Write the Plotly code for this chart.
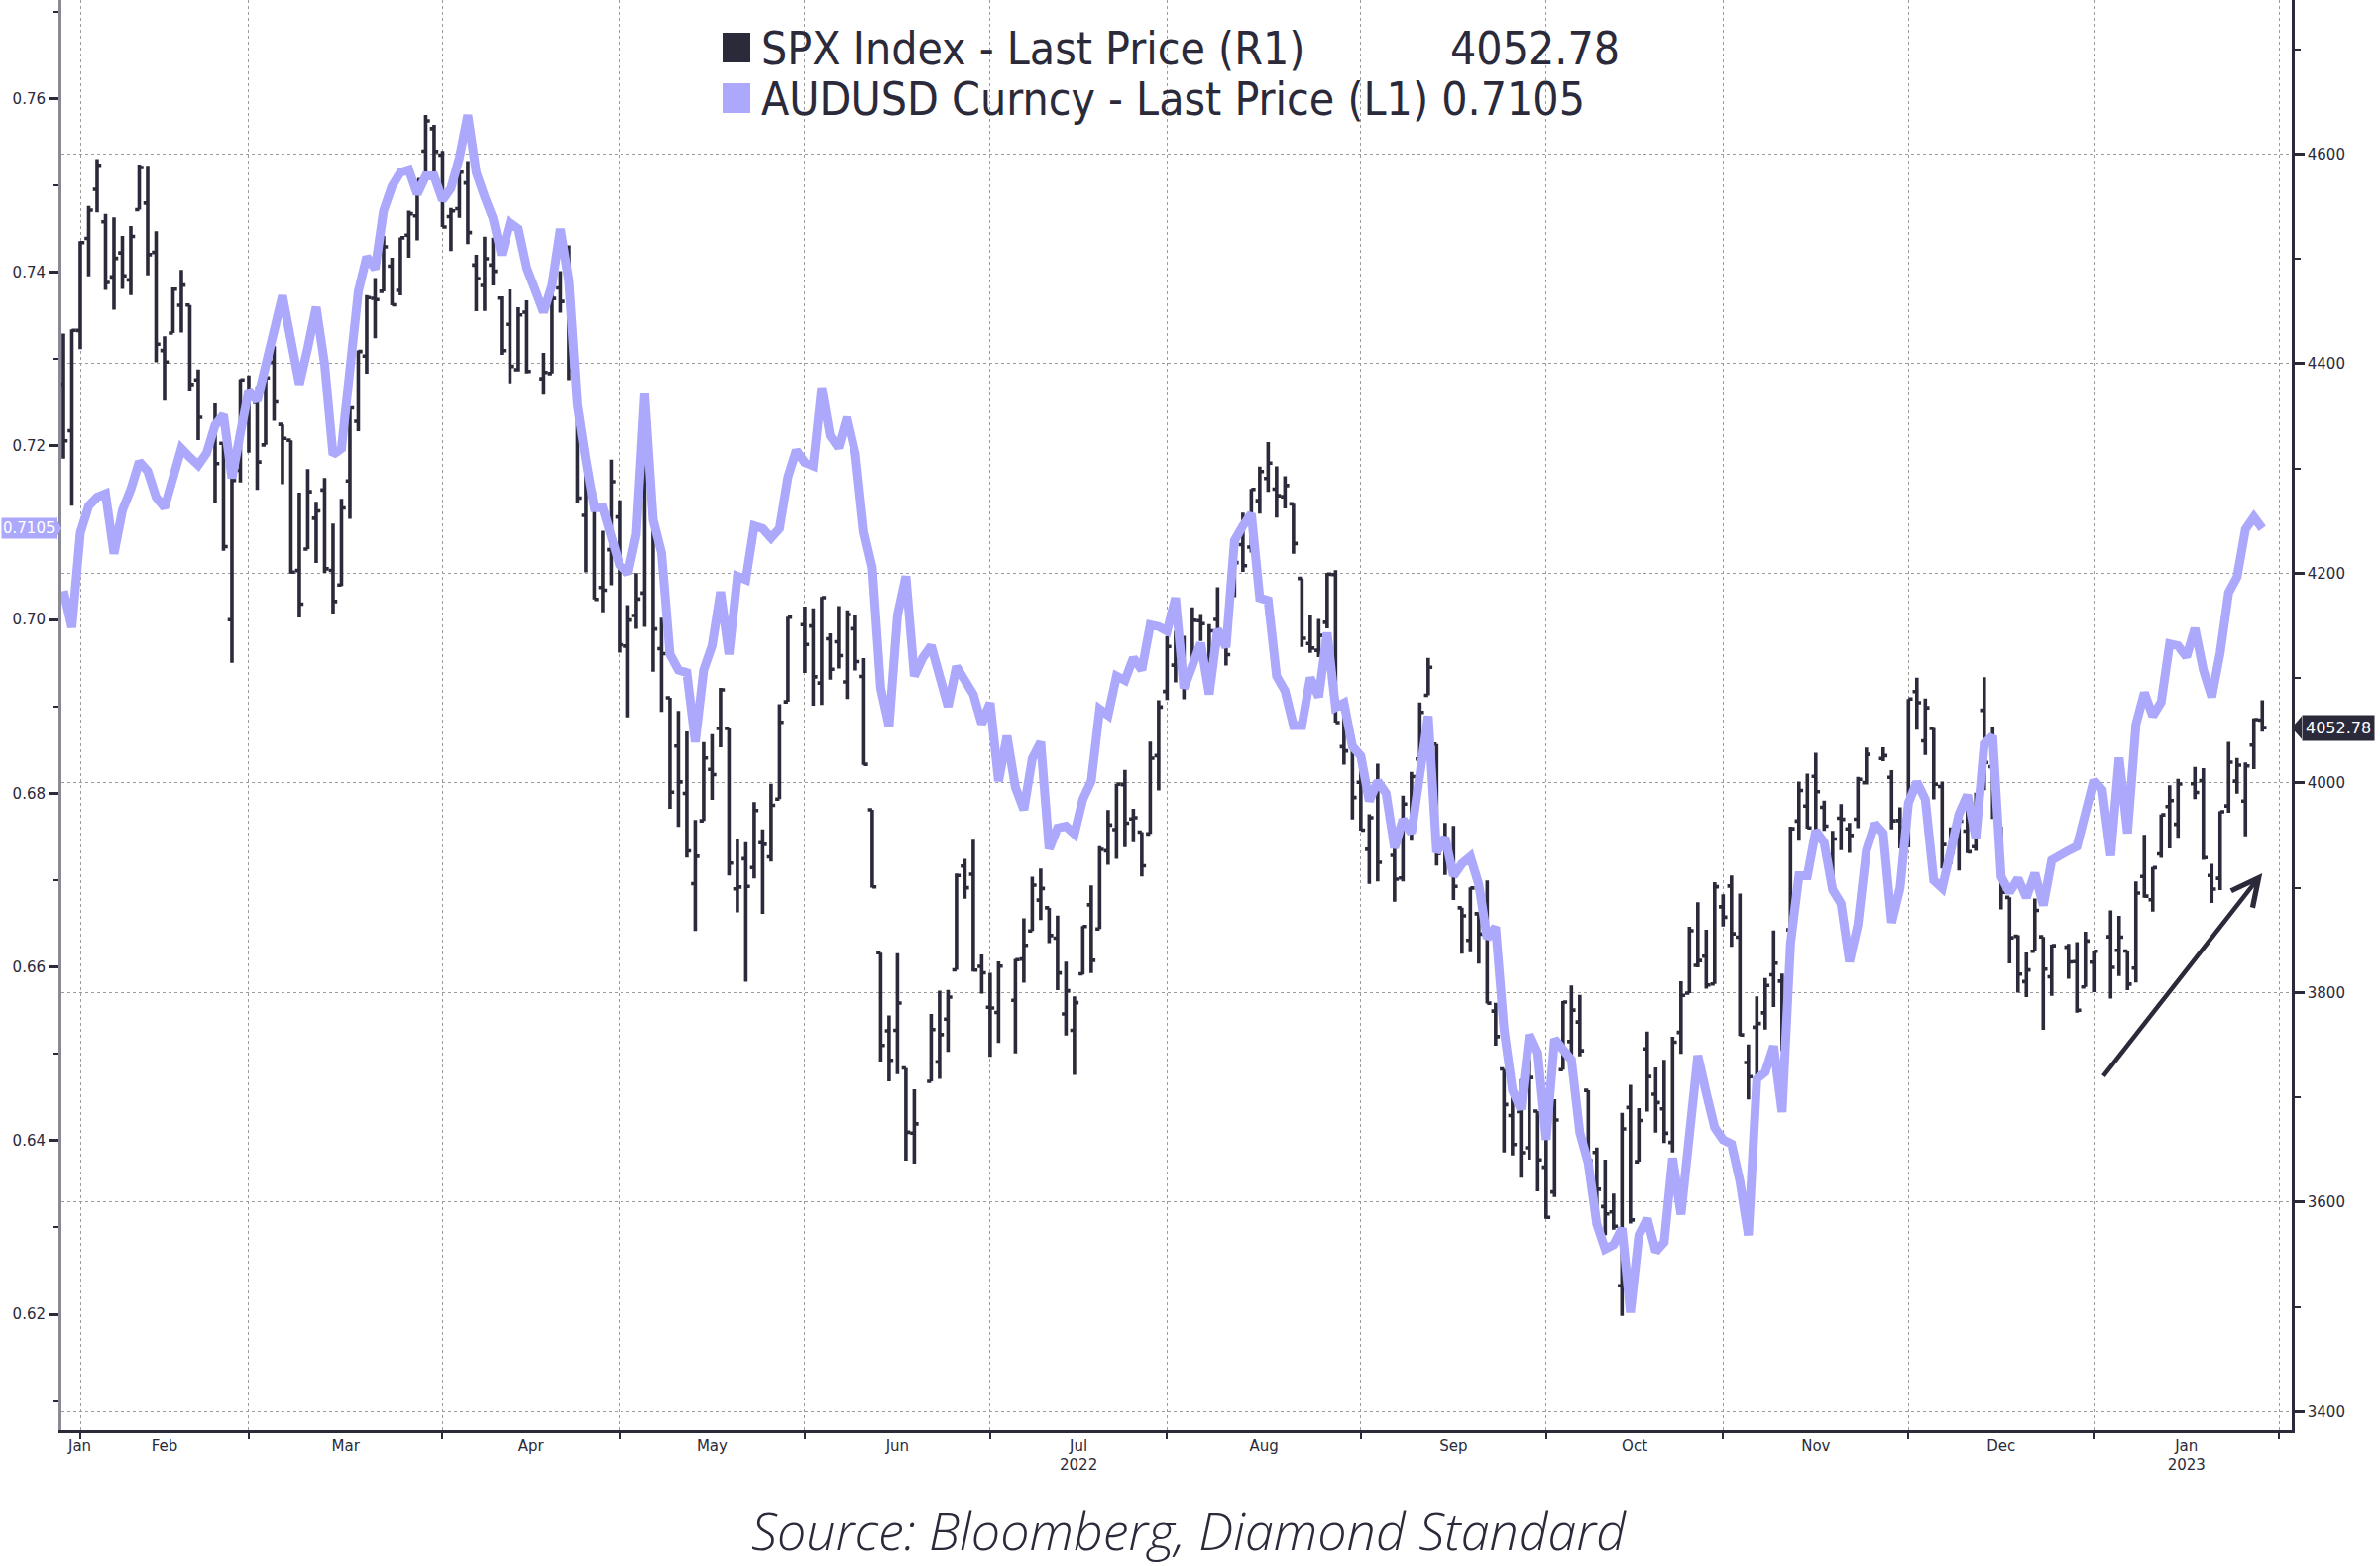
import numpy as np
import pandas as pd
import plotly.graph_objects as go

NAVY = "#2b2a3a"
LAVENDER = "#aca8fc"
GRID = "#9c9c9c"
AXIS_GREY = "#8a8a96"

# ---------------- data ----------------
first_day = "2022-01-27"
last_day = "2023-01-27"
spx_holidays = ["2022-02-21", "2022-04-15", "2022-05-30", "2022-06-20", "2022-07-04",
                "2022-09-05", "2022-11-24", "2022-12-26", "2023-01-02", "2023-01-16"]

# AUDUSD daily close, every weekday from 2022-01-27 to 2023-01-27
audusd = [
    0.7033, 0.6991, 0.7100,
    # Feb
    0.7131, 0.7141, 0.7145, 0.7076, 0.7126, 0.7150, 0.7182, 0.7171, 0.7141, 0.7129,
    0.7163, 0.7197, 0.7187, 0.7178, 0.7192, 0.7224, 0.7236, 0.7163, 0.7215, 0.7264,
    # Mar
    0.7252, 0.7289, 0.7327, 0.7373, 0.7322, 0.7271, 0.7313, 0.7360, 0.7294, 0.7190,
    0.7197, 0.7285, 0.7378, 0.7418, 0.7404, 0.7471, 0.7499, 0.7515, 0.7518, 0.7490,
    0.7511, 0.7511, 0.7483,
    # Apr
    0.7497, 0.7532, 0.7581, 0.7515, 0.7487, 0.7462, 0.7420, 0.7457, 0.7450, 0.7405,
    0.7380, 0.7354, 0.7385, 0.7450, 0.7390, 0.7247, 0.7184, 0.7129, 0.7129, 0.7098,
    0.7063,
    # May
    0.7053, 0.7098, 0.7260, 0.7115, 0.7077, 0.6960, 0.6942, 0.6939, 0.6859, 0.6942,
    0.6970, 0.7032, 0.6960, 0.7050, 0.7046, 0.7108, 0.7105, 0.7094, 0.7105, 0.7164,
    0.7195, 0.7181,
    # Jun
    0.7177, 0.7267, 0.7212, 0.7198, 0.7233, 0.7191, 0.7101, 0.7060, 0.6921, 0.6877,
    0.7005, 0.7050, 0.6935, 0.6956, 0.6970, 0.6930, 0.6900, 0.6946, 0.6930, 0.6914,
    0.6880, 0.6904,
    # Jul
    0.6814, 0.6866, 0.6807, 0.6781, 0.6840, 0.6859, 0.6736, 0.6760, 0.6762, 0.6753,
    0.6793, 0.6814, 0.6897, 0.6890, 0.6935, 0.6930, 0.6956, 0.6942, 0.6994, 0.6992,
    0.6987,
    # Aug
    0.7025, 0.6921, 0.6947, 0.6973, 0.6914, 0.6989, 0.6968, 0.7091, 0.7108, 0.7122,
    0.7025, 0.7022, 0.6935, 0.6918, 0.6878, 0.6878, 0.6933, 0.6911, 0.6985, 0.6899,
    0.6904, 0.6854, 0.6843,
    # Sep
    0.6791, 0.6814, 0.6800, 0.6737, 0.6770, 0.6754, 0.6819, 0.6889, 0.6732, 0.6749,
    0.6705, 0.6719, 0.6727, 0.6695, 0.6633, 0.6646, 0.6528, 0.6458, 0.6436, 0.6522,
    0.6501, 0.6401,
    # Oct
    0.6517, 0.6504, 0.6493, 0.6409, 0.6374, 0.6304, 0.6275, 0.6280, 0.6299, 0.6202,
    0.6291, 0.6310, 0.6272, 0.6283, 0.6380, 0.6315, 0.6401, 0.6498, 0.6455, 0.6415,
    0.6401,
    # Nov
    0.6396, 0.6353, 0.6291, 0.6471, 0.6479, 0.6509, 0.6433, 0.6627, 0.6705, 0.6705,
    0.6757, 0.6743, 0.6689, 0.6673, 0.6606, 0.6649, 0.6734, 0.6765, 0.6754, 0.6651,
    0.6691, 0.6789,
    # Dec
    0.6813, 0.6793, 0.6700, 0.6691, 0.6732, 0.6776, 0.6798, 0.6748, 0.6857, 0.6866,
    0.6704, 0.6686, 0.6702, 0.6680, 0.6708, 0.6671, 0.6723, 0.6730, 0.6734, 0.6739,
    0.6774, 0.6815,
    # Jan 2023
    0.6804, 0.6728, 0.6841, 0.6754, 0.6879, 0.6916, 0.6889, 0.6905, 0.6972, 0.6970,
    0.6957, 0.6990, 0.6942, 0.6911, 0.6962, 0.7031, 0.7049, 0.7104, 0.7118, 0.7105,
]

# SPX daily bars on US trading days from 2022-01-27 to 2023-01-27
spx_open = [
    4380.58, 4336.19, 4431.79,
    4519.57, 4566.39, 4535.41, 4482.79, 4505.75, 4480.02, 4547.00, 4553.24, 4506.27, 4412.61,
    4429.28, 4455.75, 4456.06, 4384.57, 4332.74, 4324.01, 4155.77, 4298.38, 4354.17,
    4363.14, 4322.56, 4401.31, 4342.12, 4327.01, 4202.66, 4223.10, 4252.55, 4279.50, 4202.75,
    4188.82, 4288.14, 4345.11, 4407.34, 4462.40, 4469.10, 4493.10, 4469.98, 4522.66, 4541.09,
    4602.86, 4624.20, 4599.02,
    4540.32, 4547.97, 4572.45, 4494.17, 4474.65, 4494.15, 4462.64, 4437.59, 4394.30, 4449.12,
    4385.63, 4390.63, 4472.26, 4489.17, 4385.83, 4255.34, 4278.14, 4186.52, 4222.58, 4253.75,
    4130.61, 4159.78, 4181.18, 4270.43, 4128.17, 4081.27, 4035.18, 3990.08, 3903.95, 3963.90,
    4013.02, 4052.00, 4051.98, 3899.00, 3927.76, 3919.42, 3942.94, 3929.59, 3984.60, 4077.43,
    4151.09,
    4149.78, 4095.41, 4137.57, 4134.72, 4096.47, 4147.12, 4101.65, 3974.39, 3838.15, 3763.52,
    3764.05, 3728.18, 3665.90, 3715.31, 3733.89, 3774.71, 3821.75, 3920.76, 3913.00, 3825.09,
    3785.99,
    3781.00, 3792.61, 3831.98, 3858.85, 3888.26, 3880.94, 3851.95, 3779.67, 3763.99, 3818.00,
    3883.79, 3860.73, 3935.32, 3955.47, 3998.43, 3965.72, 3953.22, 3951.43, 4026.13, 4087.33,
    4112.38, 4104.21, 4107.96, 4154.85, 4115.87, 4155.93, 4133.11, 4181.02, 4227.40, 4225.02,
    4269.37, 4290.46, 4280.40, 4273.13, 4266.31, 4195.08, 4133.09, 4126.55, 4153.26, 4198.74,
    4034.58, 4041.25, 4000.67,
    3936.73, 3994.66, 3930.89, 3909.43, 3959.94, 4022.94, 4083.67, 4037.12, 3940.73, 3932.41,
    3880.95, 3849.91, 3875.23, 3871.40, 3782.36, 3727.14, 3682.72, 3686.44, 3651.94, 3687.01,
    3633.48,
    3609.78, 3726.46, 3753.25, 3771.97, 3706.74, 3647.51, 3595.86, 3590.83, 3520.37, 3690.41,
    3638.65, 3746.26, 3703.11, 3689.05, 3657.10, 3762.01, 3799.44, 3825.97, 3834.69, 3808.26,
    3881.85,
    3901.79, 3852.90, 3733.25, 3766.98, 3780.71, 3817.02, 3810.94, 3859.89, 3963.72, 3977.97,
    4006.41, 3976.82, 3919.26, 3966.39, 3956.23, 3965.51, 4000.30, 4023.34, 4005.36, 3964.19,
    3957.18,
    4087.14, 4040.17, 4052.02, 3996.63, 3933.28, 3947.79, 3954.17, 3939.29, 4069.38, 4015.54,
    3958.37, 3890.91, 3853.79, 3810.47, 3839.49, 3853.26, 3815.11, 3843.34, 3829.56, 3805.45,
    3829.06,
    3853.29, 3840.36, 3839.74, 3823.37, 3910.82, 3888.57, 3932.35, 3977.57, 3960.60, 3999.28,
    4002.25, 3911.84, 3909.04, 3978.14, 4001.74, 3982.71, 4036.08, 4060.00,
]
spx_high = [
    4428.74, 4432.72, 4516.89,
    4550.49, 4595.31, 4542.88, 4539.66, 4521.86, 4531.32, 4590.03, 4588.92, 4526.33, 4426.22,
    4472.77, 4489.55, 4456.06, 4394.60, 4362.12, 4324.01, 4294.73, 4385.34, 4388.84,
    4378.45, 4401.48, 4416.78, 4342.12, 4327.01, 4276.94, 4299.40, 4268.28, 4291.01, 4247.57,
    4271.05, 4358.90, 4412.67, 4465.40, 4481.75, 4522.00, 4501.07, 4520.58, 4546.03, 4575.65,
    4637.30, 4627.77, 4603.07,
    4548.70, 4583.50, 4593.45, 4503.94, 4521.16, 4520.41, 4464.35, 4471.00, 4453.92, 4460.46,
    4410.31, 4471.03, 4488.29, 4512.94, 4385.83, 4299.02, 4278.14, 4240.71, 4308.45, 4269.68,
    4169.81, 4200.10, 4307.66, 4270.43, 4157.69, 4081.27, 4068.82, 4049.09, 3964.80, 4038.88,
    4046.46, 4090.72, 4051.98, 3945.96, 3943.42, 3981.88, 3955.68, 3999.33, 4075.14, 4158.49,
    4168.34,
    4166.54, 4177.51, 4142.67, 4168.78, 4164.86, 4160.14, 4119.10, 3974.39, 3838.15, 3778.18,
    3837.56, 3728.18, 3707.71, 3779.65, 3801.79, 3802.58, 3913.65, 3927.72, 3945.86, 3836.50,
    3818.99,
    3829.82, 3832.19, 3870.91, 3910.63, 3918.50, 3880.94, 3873.41, 3829.44, 3796.41, 3863.62,
    3902.44, 3939.81, 3974.13, 3999.29, 4012.44, 3975.30, 3953.22, 4039.56, 4078.95, 4140.15,
    4144.95, 4140.47, 4167.66, 4161.29, 4151.58, 4186.62, 4137.30, 4211.03, 4257.91, 4280.47,
    4301.79, 4325.28, 4302.18, 4292.53, 4266.31, 4195.08, 4159.77, 4156.56, 4200.54, 4203.04,
    4062.99, 4044.98, 4015.37,
    3970.23, 4018.43, 3942.55, 3987.89, 4010.50, 4076.81, 4119.28, 4037.12, 3961.94, 3959.14,
    3880.95, 3900.45, 3876.01, 3907.07, 3790.20, 3727.14, 3715.67, 3717.53, 3736.74, 3687.01,
    3671.44,
    3698.35, 3791.92, 3806.91, 3797.93, 3706.74, 3652.17, 3640.66, 3608.34, 3685.41, 3712.00,
    3689.73, 3762.79, 3728.58, 3736.00, 3757.89, 3810.74, 3862.85, 3886.15, 3859.95, 3905.42,
    3893.73,
    3911.79, 3894.44, 3750.59, 3796.34, 3813.95, 3859.40, 3818.20, 3958.33, 4001.48, 4008.97,
    4028.84, 3983.09, 3954.33, 3979.89, 3962.00, 4005.88, 4033.78, 4034.02, 4012.27, 3976.77,
    4080.11,
    4100.51, 4080.48, 4052.45, 4001.51, 3957.57, 3966.64, 3977.02, 3990.71, 4100.96, 4053.76,
    3958.37, 3890.91, 3854.86, 3838.24, 3889.82, 3853.26, 3845.80, 3846.65, 3848.32, 3858.19,
    3839.85,
    3878.46, 3873.16, 3839.74, 3906.19, 3950.57, 3919.83, 3970.07, 3997.76, 4003.95, 4015.39,
    4014.16, 3922.94, 3972.96, 4039.31, 4023.92, 4019.55, 4061.57, 4079.00,
]
spx_low = [
    4309.50, 4264.43, 4414.02,
    4483.53, 4544.32, 4470.39, 4451.50, 4471.47, 4465.40, 4547.00, 4484.31, 4401.41, 4364.84,
    4429.28, 4429.68, 4373.81, 4327.22, 4267.11, 4221.51, 4114.65, 4286.83, 4315.12,
    4279.54, 4322.56, 4345.56, 4284.98, 4199.85, 4157.87, 4223.10, 4209.80, 4200.49, 4161.72,
    4187.90, 4251.99, 4335.65, 4390.57, 4424.30, 4469.10, 4455.81, 4465.17, 4501.07, 4517.69,
    4581.18, 4581.32, 4530.41,
    4507.57, 4539.21, 4514.17, 4450.04, 4450.30, 4474.60, 4408.38, 4381.34, 4392.70, 4390.77,
    4370.30, 4390.63, 4448.76, 4384.47, 4267.62, 4200.82, 4175.04, 4162.90, 4188.63, 4124.28,
    4062.51, 4147.08, 4148.91, 4106.01, 4067.91, 3975.48, 3958.17, 3928.82, 3858.87, 3963.90,
    3983.99, 4033.93, 3911.91, 3876.58, 3810.32, 3909.04, 3875.13, 3925.03, 3984.60, 4077.43,
    4104.88,
    4073.85, 4074.37, 4098.67, 4109.18, 4080.19, 4107.20, 4017.17, 3900.16, 3734.30, 3715.31,
    3722.30, 3639.77, 3636.87, 3715.31, 3717.69, 3743.52, 3821.75, 3889.66, 3820.14, 3799.02,
    3738.67,
    3752.10, 3742.06, 3809.37, 3858.85, 3869.34, 3847.22, 3802.36, 3759.07, 3721.56, 3817.18,
    3818.63, 3860.73, 3922.03, 3927.64, 3938.85, 3943.46, 3910.74, 3951.43, 3992.97, 4079.22,
    4096.02, 4079.81, 4107.96, 4135.42, 4107.31, 4128.97, 4112.09, 4177.26, 4201.41, 4219.78,
    4256.90, 4277.77, 4253.08, 4261.98, 4218.70, 4129.86, 4124.03, 4119.97, 4147.59, 4057.66,
    4017.42, 3965.21, 3954.53,
    3903.65, 3906.21, 3886.75, 3906.03, 3944.81, 4022.94, 4083.67, 3921.29, 3912.28, 3888.28,
    3837.08, 3838.50, 3827.54, 3789.49, 3749.45, 3647.47, 3644.76, 3623.29, 3640.61, 3610.40,
    3584.13,
    3604.93, 3726.46, 3722.66, 3739.22, 3620.73, 3588.10, 3568.45, 3573.86, 3491.58, 3579.68,
    3638.65, 3686.53, 3666.51, 3656.44, 3647.42, 3741.65, 3799.44, 3824.07, 3803.79, 3808.26,
    3863.18,
    3843.80, 3758.68, 3698.15, 3708.84, 3764.70, 3786.28, 3744.22, 3859.89, 3944.82, 3956.40,
    3953.17, 3954.34, 3906.54, 3935.98, 3933.34, 3956.88, 3998.66, 4020.76, 3955.77, 3937.65,
    3938.58,
    4050.87, 4026.63, 3984.49, 3918.39, 3922.68, 3916.54, 3933.04, 3935.30, 3993.03, 3965.65,
    3879.45, 3827.91, 3800.04, 3795.62, 3839.49, 3764.49, 3797.01, 3813.22, 3780.78, 3805.45,
    3800.34,
    3794.33, 3815.77, 3802.42, 3809.56, 3890.42, 3877.29, 3928.54, 3937.56, 3947.67, 3984.57,
    3926.59, 3885.54, 3897.86, 3971.64, 3989.79, 3949.06, 4013.29, 4049.00,
]
spx_close = [
    4326.51, 4431.85, 4515.55,
    4546.54, 4589.38, 4477.44, 4500.53, 4483.87, 4521.54, 4587.18, 4504.08, 4418.64, 4401.67,
    4471.07, 4475.01, 4380.26, 4348.87, 4304.76, 4225.50, 4288.70, 4384.65, 4373.94,
    4306.26, 4386.54, 4363.49, 4328.87, 4201.09, 4170.70, 4277.88, 4259.52, 4204.31, 4173.11,
    4262.45, 4357.86, 4411.67, 4463.12, 4461.18, 4511.61, 4456.24, 4520.16, 4543.06, 4575.52,
    4631.60, 4602.45, 4530.41,
    4545.86, 4582.64, 4525.12, 4481.15, 4500.21, 4488.28, 4412.53, 4397.45, 4446.59, 4392.59,
    4391.69, 4462.21, 4459.45, 4393.66, 4271.78, 4296.12, 4175.20, 4183.96, 4287.50, 4131.93,
    4155.38, 4175.48, 4300.17, 4146.87, 4123.34, 3991.24, 4001.05, 3935.18, 3930.08, 4023.89,
    4008.01, 4088.85, 3923.68, 3900.79, 3901.36, 3973.75, 3941.48, 3978.73, 4057.84, 4158.24,
    4132.15,
    4101.23, 4176.82, 4108.54, 4121.43, 4160.68, 4115.77, 4017.82, 3900.86, 3749.63, 3735.48,
    3789.99, 3666.77, 3674.84, 3764.79, 3759.89, 3795.73, 3911.74, 3900.11, 3821.55, 3818.83,
    3785.38,
    3825.33, 3831.39, 3845.08, 3902.62, 3899.38, 3854.43, 3818.80, 3801.78, 3790.38, 3863.16,
    3830.85, 3936.69, 3959.90, 3998.95, 3961.63, 3966.84, 3921.05, 4023.61, 4072.43, 4130.29,
    4118.63, 4091.19, 4155.17, 4151.94, 4145.19, 4140.06, 4122.47, 4210.24, 4207.27, 4280.15,
    4297.14, 4305.20, 4274.04, 4283.74, 4228.48, 4137.99, 4128.73, 4140.77, 4199.12, 4057.66,
    4030.61, 3986.16, 3955.00,
    3966.85, 3924.26, 3908.19, 3979.87, 4006.18, 4067.36, 4110.41, 3932.69, 3946.01, 3901.35,
    3873.33, 3899.89, 3855.93, 3789.93, 3757.99, 3693.23, 3655.04, 3647.29, 3719.04, 3640.47,
    3585.62,
    3678.43, 3790.93, 3783.28, 3744.52, 3639.66, 3612.39, 3588.84, 3577.03, 3669.91, 3583.07,
    3677.95, 3719.98, 3695.16, 3665.78, 3752.75, 3797.34, 3859.11, 3830.60, 3807.30, 3901.06,
    3871.98,
    3856.10, 3759.69, 3719.89, 3770.55, 3806.80, 3828.11, 3748.57, 3956.37, 3992.93, 3957.25,
    3991.73, 3958.79, 3946.56, 3965.34, 3949.94, 4003.58, 4027.26, 4026.12, 3963.94, 3957.63,
    4080.11,
    4076.57, 4071.70, 3998.84, 3941.26, 3933.92, 3963.51, 3934.38, 3990.56, 4019.65, 3995.32,
    3895.75, 3852.36, 3817.66, 3821.62, 3878.44, 3822.39, 3844.82, 3829.25, 3783.22, 3849.28,
    3839.50,
    3824.14, 3852.97, 3808.10, 3895.08, 3892.09, 3919.25, 3969.61, 3983.17, 3999.09, 3990.97,
    3928.86, 3898.85, 3972.61, 4019.81, 4016.95, 4016.22, 4060.43, 4052.78,
]

month_labels = ["Jan", "Feb", "Mar", "Apr", "May", "Jun", "Jul<br>2022", "Aug", "Sep",
                "Oct", "Nov", "Dec", "Jan<br>2023"]
left_ticks = [0.62, 0.64, 0.66, 0.68, 0.70, 0.72, 0.74, 0.76]
right_ticks = [3400, 3600, 3800, 4000, 4200, 4400, 4600]

spx_label = "SPX Index - Last Price (R1)"
aud_label = "AUDUSD Curncy - Last Price (L1)"
source_text = "Source: Bloomberg, Diamond Standard"

# ---------------- dates / axis helpers ----------------
aud_dates = pd.bdate_range(first_day, last_day)
spx_dates = aud_dates[~aud_dates.isin(pd.to_datetime(spx_holidays))]
assert len(aud_dates) == len(audusd), (len(aud_dates), len(audusd))
for arr in (spx_open, spx_high, spx_low, spx_close):
    assert len(arr) == len(spx_dates), (len(arr), len(spx_dates))

axis_days = pd.bdate_range("2022-01-10", "2023-02-24")
i0 = axis_days.get_loc(pd.Timestamp(first_day))


def pos_to_date(p):
    k = int(np.floor(p))
    return (axis_days[i0 + k] + pd.Timedelta(days=float(p - k))).isoformat()


def date_to_pos(d):
    return axis_days.get_loc(d) - i0


months = pd.period_range("2022-01", "2023-01", freq="M")
month_end_days = [max(d for d in axis_days if d.to_period("M") == m) for m in months]
end_pos = [date_to_pos(d) for d in month_end_days]
label_pos = [end_pos[0] - 0.05] + [(end_pos[k - 1] + end_pos[k]) / 2 for k in range(1, len(months))]

x_range = [pos_to_date(-0.235), pos_to_date(264.5)]

# ---------------- figure ----------------
fig = go.Figure()
fig.add_trace(go.Ohlc(
    x=spx_dates, open=spx_open, high=spx_high, low=spx_low, close=spx_close,
    xaxis="x", yaxis="y", name=spx_label,
    increasing=dict(line=dict(color=NAVY, width=3.6)),
    decreasing=dict(line=dict(color=NAVY, width=3.6)),
    tickwidth=0.5, showlegend=False, hoverinfo="skip",
))
fig.add_trace(go.Scatter(
    x=aud_dates, y=audusd, xaxis="x", yaxis="y2", mode="lines", name=aud_label,
    line=dict(color=LAVENDER, width=9), showlegend=False, hoverinfo="skip",
))

tick_font = dict(family="DejaVu Sans", size=15, color=NAVY)

fig.update_layout(
    width=2401, height=1580,
    paper_bgcolor="white", plot_bgcolor="white",
    margin=dict(l=62, r=89, t=0, b=137, autoexpand=False),
    showlegend=False, hovermode=False,
    font=dict(family="DejaVu Sans", color=NAVY),
    xaxis=dict(
        type="date", range=x_range,
        rangebreaks=[dict(bounds=["sat", "mon"])],
        rangeslider=dict(visible=False),
        tickmode="array", tickvals=[pos_to_date(p) for p in label_pos], ticktext=month_labels,
        ticks="", showgrid=False, zeroline=False,
        showline=True, linecolor=NAVY, linewidth=2.5,
        tickfont=tick_font,
        minor=dict(tickmode="array", tickvals=[d.isoformat() for d in month_end_days],
                   ticks="outside", ticklen=6, tickwidth=1.5, tickcolor=NAVY,
                   showgrid=True, gridcolor=GRID, gridwidth=1.3, griddash="3px,3px"),
        automargin=False,
    ),
    yaxis=dict(
        side="right", range=[3382.5, 4747.0],
        tickmode="array", tickvals=right_ticks, ticktext=[str(v) for v in right_ticks],
        ticks="outside", ticklen=10, tickwidth=2.5, tickcolor=NAVY,
        showgrid=True, gridcolor=GRID, gridwidth=1.3, griddash="3px,3px",
        zeroline=False, showline=True, linecolor=NAVY, linewidth=2.5,
        tickfont=tick_font,
        minor=dict(dtick=100, tick0=3400, ticks="outside", ticklen=6, tickwidth=1.5,
                   tickcolor=NAVY, showgrid=False),
        automargin=False,
    ),
    yaxis2=dict(
        overlaying="y", side="left", range=[0.60665, 0.77136],
        tickmode="array", tickvals=left_ticks, ticktext=[f"{v:.2f}" for v in left_ticks],
        ticks="outside", ticklen=10, tickwidth=2.5, tickcolor=NAVY,
        showgrid=False, zeroline=False, showline=True, linecolor=AXIS_GREY, linewidth=3,
        tickfont=tick_font,
        minor=dict(dtick=0.01, tick0=0.60, ticks="outside", ticklen=6, tickwidth=1.5,
                   tickcolor=NAVY, showgrid=False),
        automargin=False,
    ),
)

PW, PH, L0 = 2250.0, 1443.0, 62.0


def px(xp):
    return (xp - L0) / PW


def py(yp):
    return 1 - yp / PH


shapes = [
    dict(type="rect", xref="paper", yref="paper", x0=px(729), x1=px(757), y0=py(63), y1=py(33),
         fillcolor=NAVY, line=dict(width=0)),
    dict(type="rect", xref="paper", yref="paper", x0=px(729), x1=px(757), y0=py(114), y1=py(84),
         fillcolor=LAVENDER, line=dict(width=0)),
]
aud_last = audusd[-1]
spx_last = spx_close[-1]
shapes.append(dict(type="path", xref="paper", yref="y2",
                   path=f"M {px(56)},{aud_last + 0.0013} L {px(62)},{aud_last} L {px(56)},{aud_last - 0.0013} Z",
                   fillcolor=LAVENDER, line=dict(width=0)))
shapes.append(dict(type="path", xref="paper", yref="y",
                   path=f"M {px(2312)},{spx_last} L {px(2322)},{spx_last + 11} L {px(2322)},{spx_last - 11} Z",
                   fillcolor=NAVY, line=dict(width=0)))
fig.update_layout(shapes=shapes)

legend_font = dict(family="DejaVu Sans Condensed, DejaVu Sans", size=46, color=NAVY)
annotations = [
    dict(xref="paper", yref="paper", x=px(766), y=py(49), xanchor="left", yanchor="middle",
         text=spx_label, showarrow=False, font=legend_font),
    dict(xref="paper", yref="paper", x=px(1461), y=py(49), xanchor="left", yanchor="middle",
         text=f"{spx_last:.2f}", showarrow=False, font=legend_font),
    dict(xref="paper", yref="paper", x=px(766), y=py(100), xanchor="left", yanchor="middle",
         text=f"{aud_label} {aud_last:.4f}", showarrow=False, font=legend_font),
    dict(xref="paper", yref="paper", x=px(1199), y=py(1543), xanchor="center", yanchor="middle",
         text=source_text, showarrow=False,
         font=dict(family="Open Sans", size=52, color=NAVY, style="italic", weight=300)),
    dict(xref="paper", yref="y2", x=px(1), y=aud_last, xanchor="left", yanchor="middle",
         text=f"{aud_last:.4f}", showarrow=False, bgcolor=LAVENDER, borderpad=1,
         font=dict(family="DejaVu Sans", size=15, color="white")),
    dict(xref="paper", yref="y", x=px(2322), y=spx_last, xanchor="left", yanchor="middle",
         text=f"{spx_last:.2f}", showarrow=False, bgcolor=NAVY, borderpad=3,
         font=dict(family="DejaVu Sans", size=16, color="white")),
    dict(xref="x", yref="y", x=spx_dates[-1].isoformat(), y=3914,
         axref="x", ayref="y", ax="2023-01-02", ay=3719,
         text="", showarrow=True, arrowhead=5, arrowsize=1.2, arrowwidth=4.5, arrowcolor=NAVY),
]
fig.update_layout(annotations=annotations)

fig.write_html("out.html")
